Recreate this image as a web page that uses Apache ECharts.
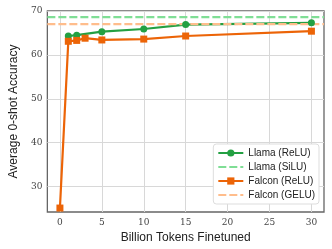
<!DOCTYPE html>
<html><head><meta charset="utf-8">
<script src="https://cdn.jsdelivr.net/npm/echarts@6/dist/echarts.min.js"></script>
<style>html,body{margin:0;padding:0;background:#fff}#c{width:332px;height:249px}</style>
</head><body><div id="c"></div>
<script>
const tokens = [0, 1, 2, 3, 5, 10, 15, 30];
const llamaReluX = [1, 2, 5, 10, 15, 30];
const llamaRelu = [64.3, 64.5, 65.3, 65.9, 66.9, 67.3];
const falconRelu = [25.1, 63.1, 63.3, 63.8, 63.4, 63.6, 64.3, 65.4];
const llamaSilu = 68.6;
const falconGelu = 67.0;
const xTicks = [0, 5, 10, 15, 20, 25, 30];
const yTicks = [30, 40, 50, 60, 70];
const xRange = [-1.5, 31.5];
const yRange = [24.2, 70];

const chart = echarts.init(document.getElementById('c'));
const serif = 'DejaVu Serif';
const sans = 'Liberation Sans';
chart.setOption({
  animation: false,
  grid: {left: 37, top: 11, right: 8, bottom: 37, show: true, borderColor: '#666', borderWidth: 1.3},
  xAxis: {
    type: 'value', min: xRange[0], max: xRange[1],
    name: 'Billion Tokens Finetuned', nameLocation: 'middle', nameGap: 18,
    nameTextStyle: {fontFamily: sans, fontSize: 12, color: '#222'},
    axisLine: {show: false},
    axisTick: {show: false, customValues: xTicks},
    axisLabel: {customValues: xTicks, fontFamily: serif, fontSize: 9, color: '#444', margin: 6},
    splitLine: {show: true, lineStyle: {color: '#d8d8d8', width: 1}}
  },
  yAxis: {
    type: 'value', min: yRange[0], max: yRange[1],
    name: 'Average 0-shot Accuracy', nameLocation: 'middle', nameGap: 23,
    nameTextStyle: {fontFamily: sans, fontSize: 12, color: '#222'},
    axisLine: {show: false},
    axisTick: {show: false, customValues: yTicks},
    axisLabel: {customValues: yTicks, fontFamily: serif, fontSize: 9, color: '#444', margin: 5},
    splitLine: {show: true, lineStyle: {color: '#d8d8d8', width: 1}}
  },
  legend: {
    right: 13, bottom: 45, orient: 'vertical',
    itemWidth: 25, itemHeight: 9, itemGap: 4,
    backgroundColor: '#fff', borderColor: '#ddd', borderWidth: 1, borderRadius: 3,
    padding: [4, 4, 4, 4],
    textStyle: {fontFamily: sans, fontSize: 10, color: '#222'},
    data: [
      {name: 'Llama (ReLU)'},
      {name: 'Llama (SiLU)', itemStyle: {opacity: 0}},
      {name: 'Falcon (ReLU)'},
      {name: 'Falcon (GELU)', itemStyle: {opacity: 0}}
    ]
  },
  series: [
    {name: 'Llama (ReLU)', type: 'line', data: llamaReluX.map((x, i) => [x, llamaRelu[i]]),
     symbol: 'circle', symbolSize: 7, color: '#23a042',
     lineStyle: {width: 2.2, color: '#23a042'}, itemStyle: {color: '#23a042'}},
    {name: 'Llama (SiLU)', type: 'line', data: xRange.map(x => [x, llamaSilu]),
     symbol: 'none', color: '#7fde95',
     lineStyle: {width: 2.2, type: [8, 3], color: '#7fde95'}},
    {name: 'Falcon (ReLU)', type: 'line', data: tokens.map((x, i) => [x, falconRelu[i]]),
     symbol: 'rect', symbolSize: 7, color: '#ec6407',
     lineStyle: {width: 2.2, color: '#ec6407'}, itemStyle: {color: '#ec6407'}},
    {name: 'Falcon (GELU)', type: 'line', data: xRange.map(x => [x, falconGelu]),
     symbol: 'none', color: '#ffbd8c',
     lineStyle: {width: 2.2, type: [8, 3], color: '#ffbd8c'}}
  ]
});
</script></body></html>
